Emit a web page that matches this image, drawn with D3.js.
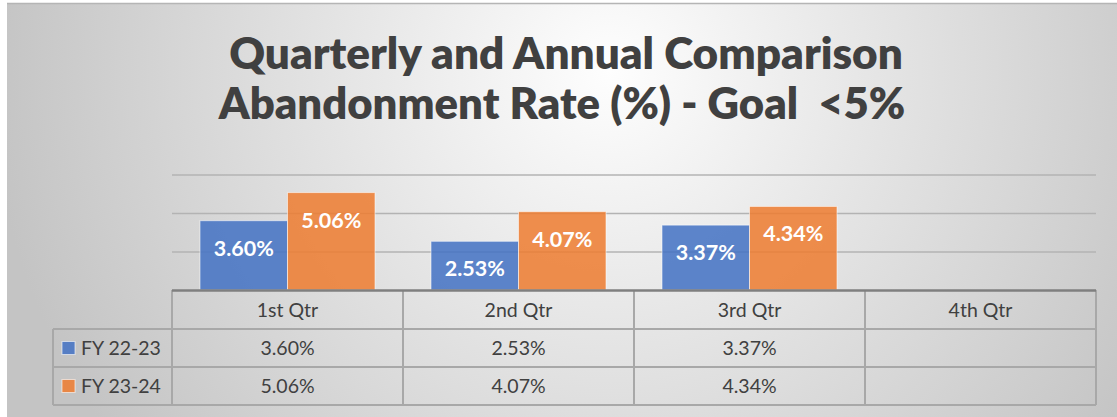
<!DOCTYPE html>
<html><head><meta charset="utf-8">
<script src="https://cdn.jsdelivr.net/npm/d3@7"></script>
<style>html,body{margin:0;padding:0;background:#fff;overflow:hidden}</style>
</head><body><svg id="c" width="1117" height="417"></svg>
<script>
const categories = ["1st Qtr","2nd Qtr","3rd Qtr","4th Qtr"];
const seriesNames = ["FY 22-23","FY 23-24"];
const fy2223 = [3.60, 2.53, 3.37, null];
const fy2324 = [5.06, 4.07, 4.34, null];
const gridTicks = [2, 4, 6];
const titleLines = ["Quarterly and Annual Comparison", "Abandonment Rate (%) - Goal  <5%"];

const seriesValues = [fy2223, fy2324];
const colors = ["#4472C4", "#ED7D31"];
const fmt = v => v == null ? "" : v.toFixed(2) + "%";

const svg = d3.select("#c");
const defs = svg.append("defs");
const rg = defs.append("radialGradient").attr("id","bg")
  .attr("gradientUnits","userSpaceOnUse").attr("cx",610).attr("cy",70).attr("r",620);
rg.append("stop").attr("offset",0).attr("stop-color","#fefefe");
rg.append("stop").attr("offset",1).attr("stop-color","#c4c4c4");

svg.append("rect").attr("x",7).attr("y",3).attr("width",1110).attr("height",414).attr("fill","url(#bg)");
svg.append("line").attr("x1",7).attr("x2",1117).attr("y1",3.5).attr("y2",3.5).attr("stroke","#b5b5b5").attr("stroke-width",1.5);

// Title
const titleX = [566, 562], titleY = [69, 119], titleW = [674, 687];
titleLines.forEach((t,i) => {
  const tx = svg.append("text").text(t)
    .attr("x", titleX[i]).attr("y", titleY[i]).attr("text-anchor","middle")
    .style("white-space","pre")
    .attr("font-family","Lato, 'Open Sans', sans-serif").attr("font-weight",800)
    .attr("font-size",40).attr("fill","#404040");
  const w = tx.node().getComputedTextLength();
  tx.attr("font-size", 40 * titleW[i] / w);
});

// Scales
const x0 = d3.scaleBand().domain(categories).range([172, 1096]);
const x1 = d3.scaleBand().domain(seriesNames).range([28, x0.bandwidth() - 28]);
const y = d3.scaleLinear().domain([0, 6]).range([290, 174.5]);

// Gridlines
svg.append("g").attr("transform","translate(172,0)")
  .call(d3.axisLeft(y).tickValues(gridTicks).tickSize(-(x0.range()[1]-x0.range()[0])).tickFormat(""))
  .call(g => g.select(".domain").remove())
  .selectAll("line").attr("stroke","#b3b3b3").attr("stroke-width",1.5);

// Bars
const barData = [];
categories.forEach((c,i) => seriesNames.forEach((s,j) => {
  const v = seriesValues[j][i];
  if (v != null) barData.push({c, s, v, j});
}));
const bars = svg.append("g");
bars.selectAll("rect").data(barData).join("rect")
  .attr("x", d => x0(d.c) + x1(d.s))
  .attr("y", d => y(d.v))
  .attr("width", x1.bandwidth())
  .attr("height", d => y(0) - y(d.v))
  .attr("fill", d => colors[d.j]).attr("fill-opacity", 0.86)
  .attr("stroke","rgba(255,255,255,0.55)").attr("stroke-width",1);
bars.selectAll("text").data(barData).join("text")
  .attr("x", d => x0(d.c) + x1(d.s) + x1.bandwidth()/2)
  .attr("y", d => y(d.v) + 35)
  .attr("text-anchor","middle")
  .attr("font-family","Lato, 'Open Sans', sans-serif").attr("font-weight","bold")
  .attr("font-size",21.5).attr("fill","#ffffff")
  .text(d => fmt(d.v));

// Data table
const lineColor = "#a8a8a8";
const rowTop = [291, 329, 367], rowH = 38, tableBottom = 405, legendLeft = 53;
const tbl = svg.append("g");
[329, 367, 405].forEach(yy => tbl.append("line").attr("x1", legendLeft).attr("x2", x0.range()[1])
  .attr("y1", yy).attr("y2", yy).attr("stroke", lineColor).attr("stroke-width", 2));
tbl.append("line").attr("x1", legendLeft).attr("x2", legendLeft).attr("y1", 329).attr("y2", tableBottom)
  .attr("stroke", lineColor).attr("stroke-width", 2);
categories.concat([null]).forEach((c,i) => {
  const xx = c == null ? x0.range()[1] : x0(c);
  tbl.append("line").attr("x1", xx).attr("x2", xx).attr("y1", 290).attr("y2", tableBottom)
    .attr("stroke", lineColor).attr("stroke-width", 2);
});
svg.append("line").attr("x1", x0.range()[0]).attr("x2", x0.range()[1]).attr("y1", y(0)+0.5).attr("y2", y(0)+0.5)
  .attr("stroke","#7f7f7f").attr("stroke-width",2.5);

const tf = "Lato, 'Open Sans', sans-serif";
const tfs = 19.5;
tbl.selectAll("text.h").data(categories).join("text").attr("class","h")
  .attr("x", c => x0(c) + x0.bandwidth()/2).attr("y", 317).attr("text-anchor","middle")
  .attr("font-family", tf).attr("font-size", tfs).attr("fill", "#404040").text(c => c);
seriesNames.forEach((s,j) => {
  const by = [355, 393][j];
  tbl.selectAll("text.r"+j).data(categories).join("text").attr("class","r"+j)
    .attr("x", c => x0(c) + x0.bandwidth()/2).attr("y", by).attr("text-anchor","middle")
    .attr("font-family", tf).attr("font-size", tfs).attr("fill", "#404040")
    .text((c,i) => fmt(seriesValues[j][i]));
  const cy = rowTop[j+1] + rowH/2;
  tbl.append("rect").attr("x", 62).attr("y", cy - 6.5).attr("width", 13).attr("height", 13)
    .attr("fill", colors[j]).attr("fill-opacity", 0.86).attr("stroke","rgba(255,255,255,0.6)").attr("stroke-width",1);
  tbl.append("text").attr("x", 81).attr("y", by).attr("font-family", tf).attr("font-size", tfs)
    .attr("fill", "#404040").text(s);
});
</script>
</body></html>
